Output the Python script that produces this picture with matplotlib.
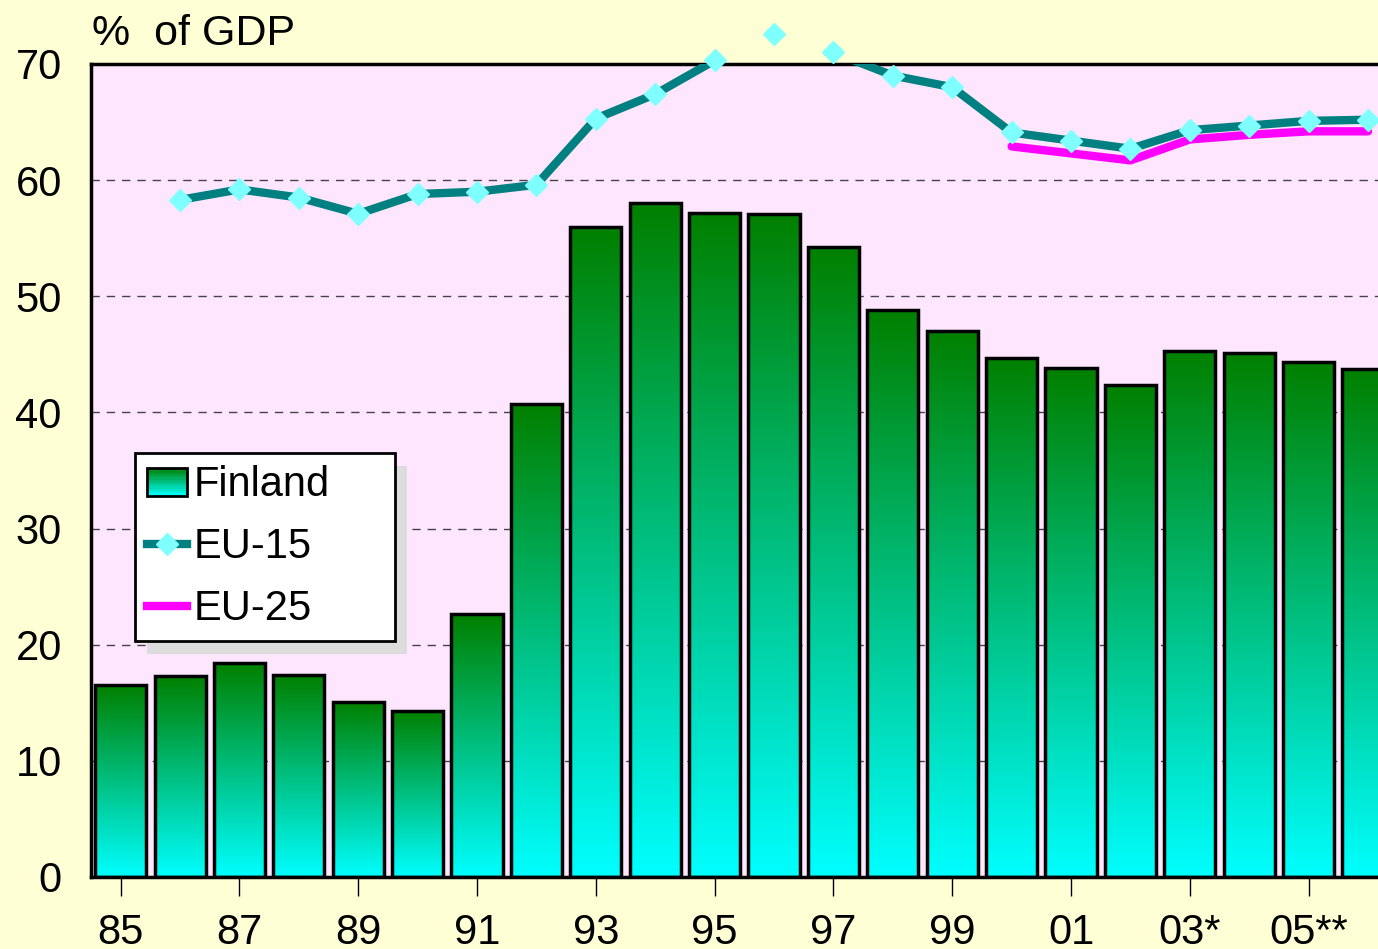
import numpy as np
import matplotlib
matplotlib.use('Agg')
import matplotlib.pyplot as plt
from matplotlib.patches import Rectangle
from matplotlib.lines import Line2D
from matplotlib.colors import LinearSegmentedColormap
from matplotlib.legend_handler import HandlerBase

plt.rcParams['font.family'] = ['Liberation Sans Narrow', 'Liberation Sans', 'DejaVu Sans']

# data
years = list(range(1985, 2007))
finland = [16.5, 17.3, 18.4, 17.4, 15.1, 14.3, 22.6, 40.7, 56.0, 58.0, 57.2,
           57.1, 54.2, 48.8, 47.0, 44.7, 43.8, 42.4, 45.3, 45.1, 44.3, 43.7]
eu15_years = list(range(1986, 2007))
eu15 = [58.3, 59.2, 58.5, 57.1, 58.8, 59.0, 59.6, 65.3, 67.4, 70.3, 72.6,
        71.0, 69.0, 68.0, 64.1, 63.4, 62.7, 64.3, 64.7, 65.1, 65.2]
eu25_years = list(range(2000, 2007))
eu25 = [62.9, 62.3, 61.7, 63.5, 63.9, 64.2, 64.2]
tick_years = list(range(1985, 2007, 2))
tick_labels = ['85', '87', '89', '91', '93', '95', '97', '99', '01', '03*', '05**']

bg = '#FFFFD6'
plot_bg = '#FFE6FF'
teal = '#008080'
cyan = '#80FFFF'
magenta = '#FF00FF'
grad = LinearSegmentedColormap.from_list('fin', ['#00FFFF', '#00BF80', '#008000'])

fig = plt.figure(figsize=(13.78, 9.49), dpi=100, facecolor=bg)
ax = fig.add_axes([0.066, 0.0759, 0.9483, 0.8567])
ax.set_facecolor(plot_bg)

w = 0.86
g = np.linspace(0, 1, 256).reshape(-1, 1)
for x, h in zip(years, finland):
    # vertical gradient inside each bar
    ax.imshow(g, cmap=grad, origin='lower', aspect='auto',
              extent=[x - w / 2, x + w / 2, 0, h], zorder=2, interpolation='bilinear')
bars = ax.bar(years, finland, width=w, facecolor='none', edgecolor='black',
              linewidth=2.5, zorder=2.5)

ax.plot(eu25_years, eu25, color=magenta, lw=6, solid_capstyle='round',
        solid_joinstyle='round', zorder=3)
ax.plot(eu15_years, eu15, color=teal, lw=6, solid_joinstyle='round', zorder=3.1)
ax.plot(eu15_years, eu15, ls='none', marker='D', ms=11, mfc=cyan, mec=cyan,
        zorder=3.2, clip_on=False)

ax.set_xlim(1984.5, 2006.5)
ax.set_ylim(0, 70)
ax.set_yticks(range(0, 80, 10))
ax.set_xticks(tick_years)
ax.set_xticklabels(tick_labels)
ax.tick_params(axis='y', length=0, pad=21, labelsize=30)
ax.tick_params(axis='x', length=14, width=1, direction='out', pad=12, labelsize=30)
for y in range(10, 70, 10):
    ax.axhline(y, color='#444444', lw=1, ls=(0, (6, 5)), zorder=1)
for s in ['left', 'bottom', 'top']:
    ax.spines[s].set_linewidth(2.5)
ax.spines['right'].set_visible(False)

fig.text(0.067, 0.9526, '%  of GDP', fontsize=31, va='baseline', ha='left')


class GradientHandler(HandlerBase):
    def create_artists(self, legend, orig_handle, xd, yd, width, height, fontsize, trans):
        arts = []
        n = 12
        for i in range(n):
            c = grad(1 - (i + 0.5) / n)
            arts.append(Rectangle((-xd, -yd + height * (n - 1 - i) / n), width,
                                  height / n, facecolor=c, edgecolor='none', transform=trans))
        arts.append(Rectangle((-xd, -yd), width, height, facecolor='none',
                              edgecolor='black', lw=2, transform=trans))
        return arts


fin_handle = Rectangle((0, 0), 1, 1)
eu15_handle = Line2D([], [], color=teal, lw=6, marker='D', ms=11, mfc=cyan, mec=cyan)
eu25_handle = Line2D([], [], color=magenta, lw=6)
leg = ax.legend([fin_handle, eu15_handle, eu25_handle], ['Finland', 'EU-15', 'EU-25'],
                handler_map={Rectangle: GradientHandler()},
                loc='upper left', bbox_to_anchor=(0.0337, 0.1, 0.199, 0.4215),
                mode='expand', borderaxespad=0,
                fontsize=30, fancybox=False, framealpha=1, edgecolor='black',
                handlelength=0.95, handletextpad=0.15, labelspacing=0.52,
                borderpad=0.3, handleheight=0.65)
leg.get_frame().set_linewidth(2)
leg.set_zorder(6)

# drop shadow behind the legend box
fig.canvas.draw()
bb = leg.get_window_extent()
inv = ax.transAxes.inverted()
(x0, y0), (x1, y1) = inv.transform([[bb.x0 + 12, bb.y0 - 13], [bb.x1 + 12, bb.y1 - 13]])
ax.add_patch(Rectangle((x0, y0), x1 - x0, y1 - y0, transform=ax.transAxes,
                       facecolor='#DCDCDC', edgecolor='none', zorder=5.5, clip_on=False))

fig.savefig('out.png', dpi=100, facecolor=bg)
